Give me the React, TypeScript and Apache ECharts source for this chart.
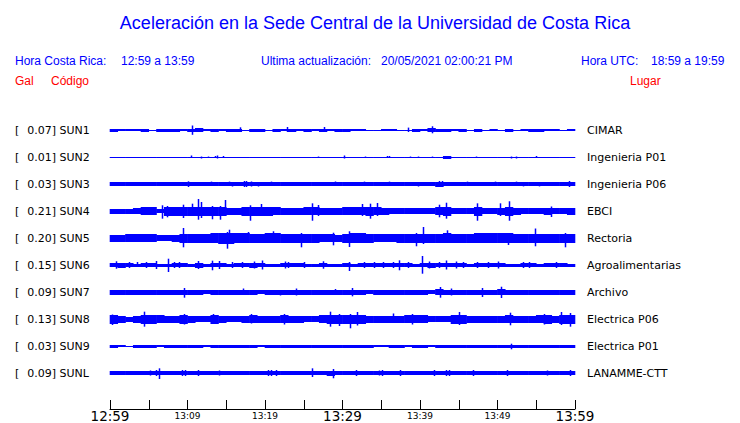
import React, { useEffect, useRef } from 'react';
import * as echarts from 'echarts';

// ---------- data ----------
const codes = ['SUN1', 'SUN2', 'SUN3', 'SUN4', 'SUN5', 'SUN6', 'SUN7', 'SUN8', 'SUN9', 'SUNL'];
const peakGal = ['0.07', '0.01', '0.03', '0.21', '0.20', '0.15', '0.09', '0.13', '0.03', '0.09'];
const places = ['CIMAR', 'Ingenieria P01', 'Ingenieria P06', 'EBCI', 'Rectoria', 'Agroalimentarias', 'Archivo', 'Electrica P06', 'Electrica P01', 'LANAMME-CTT'];
const timeLabels = ['12:59', '13:09', '13:19', '13:29', '13:39', '13:49', '13:59'];
const bigTimeLabels = ['12:59', '13:29', '13:59'];

// per-minute half amplitude of the continuous band (Gal), minutes 0..59 after 12:59
const env1 = [0.028,0.02,0.02,0.02,0.028,0.012,0.028,0.028,0.028,0.02, 0.028,0.035,0.02,0.028,0.02,0.028,0.028,0.012,0.028,0.028, 0.012,0.028,0.02,0.028,0.02,0.028,0.02,0.028,0.02,0.028, 0.028,0.02,0.02,0.012,0.012,0.02,0.02,0.008,0.012,0.028, 0.02,0.035,0.028,0.028,0.02,0.028,0.012,0.028,0.012,0.02, 0.012,0.028,0.012,0.02,0.028,0.028,0.02,0.02,0.012,0.02];
const env2 = [0.008,0.008,0.008,0.008,0.008,0.008,0.008,0.008,0.008,0.008, 0.008,0.008,0.008,0.008,0.008,0.008,0.008,0.008,0.008,0.008, 0.008,0.008,0.008,0.008,0.008,0.008,0.008,0.008,0.008,0.008, 0.008,0.008,0.008,0.008,0.008,0.008,0.008,0.008,0.008,0.008, 0.008,0.008,0.008,0.025,0.008,0.008,0.008,0.008,0.008,0.008, 0.008,0.008,0.008,0.008,0.008,0.008,0.008,0.008,0.008,0.008];
const env3 = [0.032,0.032,0.032,0.032,0.032,0.032,0.032,0.032,0.032,0.032, 0.032,0.032,0.032,0.032,0.032,0.032,0.032,0.032,0.032,0.032, 0.032,0.032,0.032,0.032,0.032,0.032,0.032,0.032,0.032,0.032, 0.032,0.032,0.032,0.032,0.032,0.032,0.032,0.032,0.032,0.032, 0.032,0.032,0.045,0.032,0.032,0.032,0.032,0.032,0.032,0.032, 0.032,0.032,0.032,0.032,0.032,0.032,0.032,0.032,0.032,0.032];
const env4 = [0.043,0.043,0.043,0.05,0.064,0.064,0.035,0.071,0.071,0.071, 0.071,0.078,0.078,0.078,0.078,0.057,0.057,0.071,0.078,0.071, 0.071,0.064,0.057,0.057,0.057,0.064,0.064,0.057,0.057,0.057, 0.064,0.064,0.064,0.071,0.064,0.057,0.05,0.05,0.05,0.05, 0.05,0.05,0.064,0.078,0.05,0.05,0.05,0.078,0.05,0.05, 0.057,0.078,0.057,0.05,0.05,0.05,0.057,0.05,0.05,0.057];
const env5 = [0.057,0.057,0.064,0.064,0.064,0.064,0.05,0.05,0.057,0.078, 0.078,0.078,0.071,0.085,0.092,0.092,0.085,0.085,0.078,0.071, 0.085,0.085,0.078,0.078,0.078,0.071,0.071,0.064,0.064,0.057, 0.071,0.085,0.085,0.078,0.064,0.064,0.064,0.071,0.078,0.078, 0.078,0.078,0.078,0.085,0.071,0.071,0.071,0.085,0.085,0.085, 0.085,0.085,0.078,0.078,0.078,0.078,0.071,0.071,0.078,0.071];
const env6 = [0.035,0.042,0.035,0.028,0.035,0.035,0.028,0.028,0.035,0.035, 0.028,0.042,0.028,0.035,0.035,0.028,0.035,0.035,0.042,0.035, 0.028,0.028,0.035,0.035,0.035,0.028,0.028,0.035,0.028,0.028, 0.035,0.028,0.035,0.035,0.035,0.035,0.035,0.035,0.035,0.028, 0.035,0.042,0.035,0.035,0.035,0.035,0.028,0.035,0.035,0.035, 0.035,0.028,0.028,0.035,0.035,0.028,0.035,0.035,0.035,0.028];
const env7 = [0.038,0.038,0.038,0.043,0.038,0.038,0.038,0.038,0.043,0.043, 0.038,0.038,0.033,0.038,0.043,0.043,0.038,0.043,0.043,0.033, 0.038,0.038,0.038,0.043,0.038,0.038,0.043,0.038,0.038,0.043, 0.043,0.043,0.038,0.033,0.043,0.038,0.038,0.038,0.043,0.043, 0.038,0.033,0.05,0.043,0.043,0.043,0.038,0.038,0.043,0.043, 0.05,0.043,0.038,0.043,0.043,0.038,0.043,0.038,0.038,0.043];
const env8 = [0.071,0.057,0.043,0.057,0.078,0.071,0.064,0.057,0.057,0.071, 0.057,0.05,0.05,0.071,0.057,0.05,0.05,0.057,0.064,0.057, 0.057,0.057,0.064,0.057,0.057,0.05,0.05,0.064,0.078,0.078, 0.071,0.071,0.071,0.057,0.057,0.057,0.057,0.057,0.064,0.064, 0.064,0.05,0.05,0.05,0.071,0.071,0.057,0.057,0.057,0.057, 0.057,0.064,0.057,0.057,0.057,0.064,0.071,0.057,0.078,0.078];
const env9 = [0.028,0.015,0.01,0.028,0.028,0.028,0.015,0.028,0.028,0.028, 0.028,0.028,0.015,0.028,0.028,0.028,0.028,0.028,0.028,0.015, 0.028,0.028,0.028,0.028,0.028,0.028,0.028,0.028,0.028,0.028, 0.028,0.028,0.028,0.028,0.015,0.015,0.028,0.028,0.015,0.028, 0.028,0.015,0.028,0.028,0.028,0.028,0.028,0.028,0.028,0.028, 0.028,0.028,0.028,0.028,0.028,0.028,0.028,0.028,0.028,0.028];
const envL = [0.03,0.03,0.03,0.03,0.03,0.03,0.03,0.03,0.03,0.03, 0.03,0.03,0.03,0.03,0.03,0.03,0.03,0.03,0.03,0.03, 0.03,0.03,0.03,0.03,0.03,0.03,0.03,0.03,0.04,0.03, 0.03,0.03,0.03,0.03,0.03,0.03,0.03,0.03,0.03,0.03, 0.03,0.03,0.03,0.03,0.03,0.03,0.03,0.03,0.03,0.03, 0.03,0.03,0.03,0.03,0.03,0.03,0.03,0.03,0.03,0.03];

// individual peaks: [minute, max (Gal), min (Gal)]
const spk1 = [[10.6,0.075,-0.08],[16.8,0.045,-0.017],[22.9,0.05,-0.033],[27.6,0.05,-0.017],[38.5,0.04,-0.033],[41.5,0.062,-0.055]];
const spk2 = [[10.5,0.025,-0.008],[11.7,0.008,-0.025],[12.7,0.008,-0.017],[13.5,0.017,-0.008],[13.8,0.025,-0.025],[14.6,0.017,-0.008],[26.8,0.008,-0.017],[30.2,0.025,-0.025],[32.9,0.008,-0.017],[35.7,0.017,-0.017],[36,0.017,-0.008],[38.7,0.008,-0.017],[39.8,0.008,-0.017],[41.5,0.008,-0.017],[47.2,0.008,-0.017],[51.8,0.008,-0.025],[52.4,0.008,-0.025],[55,0.017,-0.008]];
const spk3 = [[10.1,0.045,-0.05],[13,0.04,-0.032],[15.3,0.04,-0.032],[15.8,0.032,-0.042],[17.3,0.05,-0.05],[17.6,0.05,-0.05],[18.2,0.042,-0.042],[19.1,0.032,-0.042],[20.8,0.04,-0.032],[29,0.042,-0.032],[32.8,0.04,-0.032],[36,0.04,-0.032],[39.8,0.032,-0.042],[42.4,0.05,-0.05],[42.8,0.05,-0.05],[46,0.04,-0.032],[49.7,0.04,-0.032],[52.4,0.04,-0.032],[53.3,0.032,-0.04],[55.3,0.032,-0.04],[59.2,0.05,-0.05]];
const spk4 = [[6.7,0.095,-0.128],[7.3,0.083,-0.105],[9.4,0.105,-0.117],[10.6,0.122,-0.083],[11.3,0.2,-0.145],[11.8,0.15,-0.117],[13.2,0.083,-0.138],[14.2,0.083,-0.145],[14.8,0.183,-0.083],[18,0.095,-0.162],[19.5,0.117,-0.083],[26,0.128,-0.162],[26.9,0.1,-0.083],[32.5,0.117,-0.083],[33.5,0.122,-0.128],[34.4,0.133,-0.083],[42.5,0.105,-0.105],[43.3,0.138,-0.128],[47.3,0.128,-0.162],[50.3,0.128,-0.083],[51.5,0.162,-0.162],[56.9,0.075,-0.1]];
const spk5 = [[9.4,0.167,-0.155],[15.1,0.1,-0.178],[15.4,0.138,-0.1],[17.8,0.1,-0.083],[21,0.112,-0.083],[24.7,0.083,-0.155],[28.8,0.088,-0.122],[30.8,0.112,-0.15],[39.5,0.083,-0.138],[40.4,0.183,-0.1],[43.5,0.128,-0.083],[51.4,0.083,-0.117],[54.8,0.158,-0.138],[58.7,0.083,-0.155]];
const spk6 = [[0.8,0.062,-0.062],[2.4,0.05,-0.05],[3.5,0.05,-0.033],[4.6,0.05,-0.05],[5.9,0.067,-0.067],[7.5,0.105,-0.117],[8.2,0.05,-0.05],[8.9,0.05,-0.05],[11.3,0.067,-0.067],[13.1,0.072,-0.088],[14.1,0.067,-0.067],[15.8,0.05,-0.05],[17,0.05,-0.05],[18.6,0.058,-0.058],[19.6,0.075,-0.075],[22.6,0.058,-0.058],[23,0.05,-0.05],[25,0.05,-0.05],[27.5,0.062,-0.062],[30.8,0.05,-0.1],[32.8,0.05,-0.05],[34,0.05,-0.05],[35.2,0.05,-0.05],[36.5,0.05,-0.05],[37.3,0.078,-0.088],[38.5,0.05,-0.05],[40.3,0.15,-0.145],[41.2,0.058,-0.058],[42.5,0.05,-0.05],[43.4,0.075,-0.075],[44.7,0.058,-0.058],[45.6,0.05,-0.05],[47.3,0.05,-0.05],[48.8,0.05,-0.05],[50,0.058,-0.058],[53.3,0.05,-0.05],[54,0.05,-0.05],[57.5,0.05,-0.05]];
const spk7 = [[9.5,0.067,-0.095],[17.2,0.058,-0.05],[21.9,0.033,-0.058],[24,0.058,-0.058],[29,0.05,-0.05],[31.2,0.067,-0.072],[42.6,0.083,-0.095],[44,0.058,-0.058],[48,0.067,-0.083],[50.4,0.088,-0.1]];
const spk8 = [[0.3,0.075,-0.1],[4.4,0.122,-0.128],[9.6,0.083,-0.092],[13.3,0.083,-0.083],[18.2,0.083,-0.075],[22.4,0.083,-0.092],[28.4,0.122,-0.128],[29.5,0.083,-0.117],[31,0.083,-0.155],[31.9,0.117,-0.108],[36.5,0.092,-0.067],[39,0.083,-0.092],[45,0.117,-0.1],[51.6,0.105,-0.105],[56,0.083,-0.092],[58.2,0.117,-0.1],[59.4,0.1,-0.128]];
const spk9 = [[51.7,0.038,-0.055]];
const spkL = [[5.2,0.042,-0.042],[5.9,0.05,-0.05],[6.3,0.078,-0.1],[9.3,0.05,-0.05],[9.7,0.05,-0.05],[11.3,0.05,-0.05],[14.1,0.042,-0.042],[20.4,0.05,-0.05],[20.8,0.05,-0.05],[21.4,0.05,-0.05],[26.1,0.078,-0.067],[28.8,0.067,-0.088],[31.7,0.05,-0.05],[34.7,0.042,-0.042],[35.1,0.05,-0.05],[37.4,0.05,-0.05],[41.8,0.05,-0.05],[43.3,0.05,-0.05],[43.7,0.05,-0.05],[46.9,0.05,-0.05],[51.2,0.05,-0.05],[56.4,0.042,-0.042],[59.4,0.05,-0.05]];

const envs = [env1, env2, env3, env4, env5, env6, env7, env8, env9, envL];
const spikes = [spk1, spk2, spk3, spk4, spk5, spk6, spk7, spk8, spk9, spkL];

// ---------- layout ----------
const BLUE = '#0000ff';
const RED = '#ff0000';
const ROW_GAL = 0.45; // vertical distance between traces, Gal
const Y_MAX = 4.9;
const TOP_BASE = 4.65;
const SANS = '"Liberation Sans", Arial, sans-serif';
const DEJAVU = '"DejaVu Sans", sans-serif';

function buildOption() {
  const series: any[] = [];
  envs.forEach((env, i) => {
    const base = TOP_BASE - ROW_GAL * i;
    series.push({
      type: 'custom',
      silent: true,
      data: env.map((v, m) => [m, v]),
      renderItem: (_p: any, api: any) => {
        const m = api.value(0);
        const v = api.value(1);
        const a = api.coord([m, base + v]);
        const b = api.coord([m + 1, base - v]);
        const cy = Math.round((a[1] + b[1]) / 2);
        const h = Math.max(Math.round(b[1] - a[1]), 1);
        const y0 = h % 2 === 1 ? cy - (h - 1) / 2 : cy - h / 2;
        return {
          type: 'rect',
          shape: { x: a[0] - 0.3, y: y0, width: b[0] - a[0] + 0.6, height: h },
          style: { fill: BLUE },
        };
      },
    });
    series.push({
      type: 'custom',
      silent: true,
      data: spikes[i],
      renderItem: (_p: any, api: any) => {
        const t = api.value(0);
        const a = api.coord([t, base + api.value(1)]);
        const b = api.coord([t, base + api.value(2)]);
        const x = Math.round(a[0]) + 0.5;
        return {
          type: 'line',
          shape: { x1: x, y1: a[1], x2: x, y2: b[1] },
          style: { stroke: BLUE, lineWidth: 1.5 },
        };
      },
    });
  });

  const graphics: any[] = [];
  const txt = (text: string, x: number, y: number, fill: string, size: number, family: string, align = 'left') => ({
    type: 'text',
    x,
    y,
    silent: true,
    style: { text, fill, fontSize: size, fontFamily: family, textAlign: align, textVerticalAlign: 'middle' },
  });
  graphics.push(txt('Aceleración en la Sede Central de la Universidad de Costa Rica', 375, 23, BLUE, 18, SANS, 'center'));
  graphics.push(txt('Hora Costa Rica:', 15, 61, BLUE, 12, SANS));
  graphics.push(txt('12:59 a 13:59', 121, 61, BLUE, 12, SANS));
  graphics.push(txt('Ultima actualización:', 261, 61, BLUE, 12, SANS));
  graphics.push(txt('20/05/2021 02:00:21 PM', 381, 61, BLUE, 12, SANS));
  graphics.push(txt('Hora UTC:', 581, 61, BLUE, 12, SANS));
  graphics.push(txt('18:59 a 19:59', 651, 61, BLUE, 12, SANS));
  graphics.push(txt('Gal', 15, 81, RED, 12, SANS));
  graphics.push(txt('Código', 51, 81, RED, 12, SANS));
  graphics.push(txt('Lugar', 630, 81, RED, 12, SANS));
  codes.forEach((c, i) => {
    const y = 130.5 + 27 * i;
    graphics.push(txt('[', 15, y, '#000', 11, DEJAVU));
    graphics.push(txt(peakGal[i] + '] ' + c, 27.3, y, '#000', 11, DEJAVU));
    graphics.push(txt(places[i], 587, y, '#000', 11, DEJAVU));
  });

  return {
    animation: false,
    backgroundColor: '#ffffff',
    grid: { left: 110, right: 165, top: 115, bottom: 14, containLabel: false },
    xAxis: {
      type: 'value',
      min: 0,
      max: 60,
      interval: 5,
      splitLine: { show: false },
      axisLine: { show: true, onZero: false, lineStyle: { color: '#000', width: 1 } },
      axisTick: { show: true, inside: true, length: 9, lineStyle: { color: '#000', width: 1 } },
      axisLabel: {
        margin: 7,
        color: '#000',
        verticalAlign: 'middle',
        formatter: (v: number) => {
          if (v % 10 !== 0) return '';
          const lab = timeLabels[v / 10];
          return bigTimeLabels.includes(lab) ? '{b|' + lab + '}' : '{s|' + lab + '}';
        },
        rich: {
          b: { fontSize: 13.5, fontFamily: DEJAVU, color: '#000' },
          s: { fontSize: 9, fontFamily: DEJAVU, color: '#000' },
        },
      },
    },
    yAxis: { type: 'value', min: 0, max: Y_MAX, show: false, splitLine: { show: false } },
    graphic: graphics,
    series,
  };
}

export default function App() {
  const ref = useRef<HTMLDivElement>(null);
  useEffect(() => {
    if (!ref.current) return;
    const chart = echarts.init(ref.current, undefined, { renderer: 'svg' });
    chart.setOption(buildOption() as any);
    return () => chart.dispose();
  }, []);
  return <div ref={ref} style={{ position: 'fixed', left: 0, top: 0, width: 740, height: 423, background: '#fff' }} />;
}
